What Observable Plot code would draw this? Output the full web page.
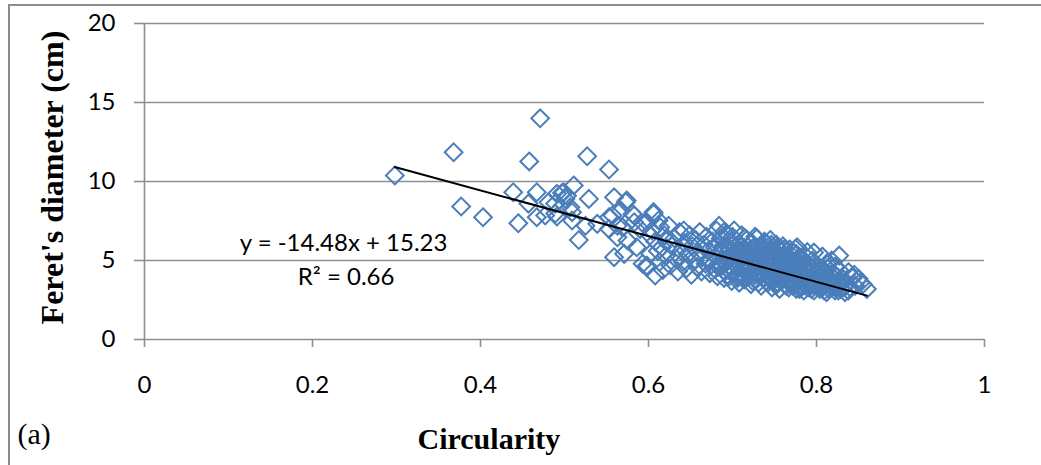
<!DOCTYPE html>
<html><head><meta charset="utf-8">
<script src="https://cdn.jsdelivr.net/npm/d3@7"></script>
<script src="https://cdn.jsdelivr.net/npm/@observablehq/plot@0.6"></script>
<style>
html,body{margin:0;padding:0;background:#fff;}
#wrap{position:relative;width:1041px;height:465px;overflow:hidden;}
#border{position:absolute;left:8px;top:4px;width:1100px;height:500px;border-top:2px solid #8c8c8c;border-left:2px solid #8c8c8c;pointer-events:none;}
</style></head><body><div id="wrap"><div id="chart"></div><div id="border"></div></div>
<script>
// Circularity (x) vs Feret's diameter in cm (y)
const sparsePoints = [
[0.298,10.38],[0.368,11.85],[0.377,8.42],[0.403,7.74],[0.439,9.32],[0.445,7.36],[0.458,11.27],[0.471,14.0],
[0.467,9.32],[0.457,8.6],[0.467,7.74],[0.489,8.6],[0.527,11.6],[0.553,10.76],[0.491,7.78],[0.499,9.32],
[0.511,9.75],[0.503,9.1],[0.507,8.37],[0.529,8.9],[0.559,9.0],[0.573,8.69],[0.553,7.74],[0.583,7.85],
[0.525,7.2],[0.539,7.32],[0.563,7.2],[0.594,7.32],[0.497,9.27],[0.501,8.9],[0.509,8.06],[0.574,8.8],
[0.517,6.3],[0.557,7.85],[0.567,8.16],[0.581,7.95],[0.553,7.0],[0.569,7.1],[0.583,7.42],[0.606,8.06],
[0.598,7.42],[0.590,7.0],[0.563,6.47],[0.575,6.27],[0.559,5.21],[0.571,5.42],[0.586,5.84],[0.602,6.58],
[0.614,7.1],[0.593,4.79],[0.598,4.58],[0.608,4.05],[0.602,5.42],[0.616,5.84],[0.622,6.27],[0.612,7.53],
[0.598,4.68],[0.606,7.95],[0.642,6.9],[0.684,7.2],[0.489,7.97],[0.491,9.22],[0.481,8.69],[0.477,7.85],[0.509,7.53]
];
const densePoints = [
[0.604,6.9],[0.608,6.2],[0.611,5.6],[0.613,4.9],[0.617,4.4],[0.619,6.6],[0.621,5.3],[0.624,7.2],[0.626,4.7],[0.628,5.9],
[0.631,6.4],[0.633,5.1],[0.635,4.3],[0.637,6.8],[0.639,5.6],[0.641,4.9],[0.643,6.1],[0.645,4.5],[0.647,5.4],[0.649,6.6],
[0.651,4.1],[0.652,5.9],[0.654,5.0],[0.656,6.3],[0.658,4.6],[0.659,5.5],[0.661,6.8],[0.663,4.3],[0.664,5.2],[0.666,6.0],
[0.668,4.8],[0.669,6.5],[0.671,5.6],[0.673,4.2],[0.674,5.0],[0.676,6.2],[0.678,4.5],[0.679,5.8],[0.681,6.9],[0.682,4.0],
[0.684,5.3],[0.686,6.4],[0.687,4.7],[0.689,5.9],[0.690,3.9],[0.692,5.1],[0.693,6.7],[0.695,4.4],[0.696,5.6],[0.698,6.2],
[0.699,3.7],[0.701,4.9],[0.702,6.9],[0.704,5.4],[0.705,4.1],[0.707,6.0],[0.708,3.6],[0.710,5.2],[0.711,6.6],[0.713,4.6],
[0.714,5.8],[0.716,3.9],[0.717,6.3],[0.719,4.4],[0.720,5.5],[0.722,3.5],[0.723,6.1],[0.725,4.9],[0.726,5.7],[0.728,3.8],
[0.729,6.4],[0.731,4.3],[0.732,5.3],[0.734,3.4],[0.735,5.9],[0.737,4.7],[0.738,6.2],[0.740,3.7],[0.741,5.0],[0.743,5.6],
[0.744,4.1],[0.746,6.0],[0.747,3.3],[0.749,4.8],[0.750,5.4],[0.752,3.9],[0.753,5.8],[0.755,4.4],[0.756,3.2],[0.758,5.1],
[0.759,4.0],[0.761,5.7],[0.762,3.5],[0.764,4.6],[0.765,5.3],[0.767,3.3],[0.768,4.2],[0.770,5.0],[0.771,3.7],[0.773,5.5],
[0.774,4.4],[0.776,3.2],[0.777,4.9],[0.779,3.9],[0.780,5.2],[0.782,3.4],[0.783,4.5],[0.785,3.1],[0.786,4.1],[0.788,4.8],
[0.789,3.6],[0.791,3.3],[0.792,4.3],[0.794,3.8],[0.795,5.0],[0.797,3.1],[0.798,4.0],[0.800,3.5],[0.802,4.6],[0.804,3.2],
[0.806,3.9],[0.808,3.4],[0.810,4.3],[0.812,3.0],[0.814,3.7],[0.816,4.1],[0.818,3.3],[0.820,3.9],[0.822,3.1],[0.825,3.6],
[0.827,4.4],[0.829,3.2],[0.832,3.8],[0.834,3.0],[0.836,3.5],[0.840,3.3],[0.843,3.9],[0.846,3.4],[0.852,3.6],
[0.683,4.6],[0.688,5.0],[0.694,5.9],[0.697,4.6],[0.703,4.3],[0.706,5.7],[0.709,4.7],[0.712,3.9],[0.715,5.0],[0.718,5.3],
[0.721,4.2],[0.724,5.2],[0.727,4.5],[0.730,5.0],[0.733,4.0],[0.736,4.5],[0.739,5.3],[0.742,4.4],[0.745,3.8],[0.748,5.2],
[0.751,4.2],[0.754,3.6],[0.757,4.8],[0.760,4.3],[0.763,3.9],[0.766,4.9],[0.769,3.5],[0.772,4.1],[0.775,3.6],[0.778,4.6],
[0.781,3.5],[0.784,4.0],[0.787,3.4],[0.790,4.4],[0.793,3.5],[0.796,3.6],[0.799,4.2],[0.803,3.7],[0.807,3.3],[0.811,3.5],
[0.815,3.2],[0.819,3.6],[0.824,3.3],[0.828,3.5],[0.833,3.3],[0.838,3.1],
[0.690,6.8],[0.700,6.5],[0.715,6.4],[0.727,6.5],[0.739,6.1],[0.745,6.3],[0.752,6.0],[0.760,5.9],[0.768,5.7],[0.775,5.74],
[0.777,5.84],[0.789,5.53],[0.807,5.25],[0.827,5.31],[0.838,4.26],[0.850,3.84],[0.860,3.2],[0.797,5.5],[0.812,4.8],[0.822,4.6],
[0.845,4.1],[0.855,3.5],[0.818,5.0]
];
const corePoints = [
[0.686,5.6],[0.691,4.3],[0.693,5.4],[0.696,4.0],[0.698,5.2],[0.700,4.4],[0.702,5.8],[0.704,4.7],[0.706,3.9],[0.708,5.4],
[0.710,4.2],[0.711,5.9],[0.713,4.9],[0.714,3.8],[0.716,5.6],[0.717,4.5],[0.719,5.1],[0.720,4.0],[0.722,5.7],[0.723,4.6],
[0.724,3.7],[0.726,5.3],[0.727,4.1],[0.729,5.5],[0.730,4.6],[0.731,3.6],[0.733,5.1],[0.734,4.8],[0.735,4.2],[0.737,5.6],
[0.738,3.9],[0.739,4.6],[0.741,5.4],[0.742,3.6],[0.743,4.9],[0.744,5.7],[0.746,4.3],[0.747,5.0],[0.748,3.7],[0.750,4.5],
[0.751,5.6],[0.752,4.9],[0.753,3.5],[0.755,5.3],[0.756,4.1],[0.757,5.6],[0.758,3.7],[0.759,4.6],[0.761,5.2],[0.762,4.0],
[0.763,4.8],[0.764,3.4],[0.766,4.4],[0.767,5.2],[0.768,3.8],[0.770,4.6],[0.771,5.3],[0.772,3.4],[0.774,4.9],[0.775,4.0],
[0.776,5.4],[0.777,3.6],[0.779,4.3],[0.780,3.2],[0.781,4.8],[0.782,5.0],[0.784,3.6],[0.785,4.5],[0.787,3.9],[0.788,5.2],
[0.790,3.4],[0.791,4.7],[0.793,4.0],[0.794,3.2],[0.796,4.5],[0.798,3.4],[0.800,4.1],[0.801,3.8],[0.803,4.4],[0.805,3.6],
[0.807,4.1],[0.809,3.1],[0.810,3.8],[0.813,4.5],[0.816,3.6],[0.819,4.2],[0.821,3.4],[0.824,4.0],[0.826,3.1],[0.830,3.6]
];
const xTicks = [0, 0.2, 0.4, 0.6, 0.8, 1];
const yTicks = [0, 5, 10, 15, 20];
const slope = -14.48, intercept = 15.23;
const equationLabels = [
  {x: 0.237, y: 5.63, text: "y = -14.48x + 15.23"},
  {x: 0.240, y: 3.42, text: "R² = 0.66"}
];
const xTitle = "Circularity", yTitle = "Feret's diameter (cm)", panelLabel = "(a)";

const points = sparsePoints.concat(densePoints, corePoints);
const [xmin, xmax] = d3.extent(points, d => d[0]);
const trend = [xmin, xmax].map(x => ({x, y: slope * x + intercept}));

const grid = "#8f8f8f";
const chart = Plot.plot({
  width: 1041, height: 465,
  marginLeft: 144, marginRight: 57, marginTop: 23, marginBottom: 126,
  x: {domain: [0, 1]},
  y: {domain: [0, 20]},
  style: {fontFamily: "Lato", background: "transparent", color: "#000"},
  marks: [
    Plot.ruleY(yTicks, {stroke: grid, strokeWidth: 1.6}),
    Plot.ruleX([0], {stroke: grid, strokeWidth: 1.6}),
    Plot.axisY({ticks: yTicks, tickSize: 10, tickPadding: 19, fontSize: 24, stroke: grid, strokeWidth: 1.6, fill: "#000", label: null, tickFormat: d => String(d)}),
    Plot.axisX({ticks: xTicks, tickSize: 8, tickPadding: 28, fontSize: 24, stroke: grid, strokeWidth: 1.6, fill: "#000", label: null, tickFormat: d => String(d)}),
    Plot.dot(points, {x: d => d[0], y: d => d[1], symbol: "diamond2", r: 8, stroke: "#4a7ebb", strokeWidth: 2, fill: "none"}),
    Plot.line(trend, {x: "x", y: "y", stroke: "#000", strokeWidth: 2}),
    Plot.text(equationLabels, {x: "x", y: "y", text: "text", lineAnchor: "bottom", fontSize: 24, fontFamily: "Lato", fill: "#000"}),
    Plot.text([yTitle], {frameAnchor: "left", textAnchor: "middle", rotate: -90, dx: -82, dy: -4, lineAnchor: "bottom", fontFamily: "Liberation Serif", fontWeight: "bold", fontSize: 32, fill: "#000"}),
    Plot.text([xTitle], {x: () => 0.41, frameAnchor: "bottom", dy: 109, lineAnchor: "bottom", fontFamily: "Liberation Serif", fontWeight: "bold", fontSize: 30, fill: "#000"}),
    Plot.text([panelLabel], {frameAnchor: "bottom-left", textAnchor: "start", dx: -127, dy: 104, lineAnchor: "bottom", fontFamily: "Liberation Serif", fontSize: 30, fill: "#000"})
  ]
});
document.getElementById("chart").appendChild(chart);
</script></body></html>
